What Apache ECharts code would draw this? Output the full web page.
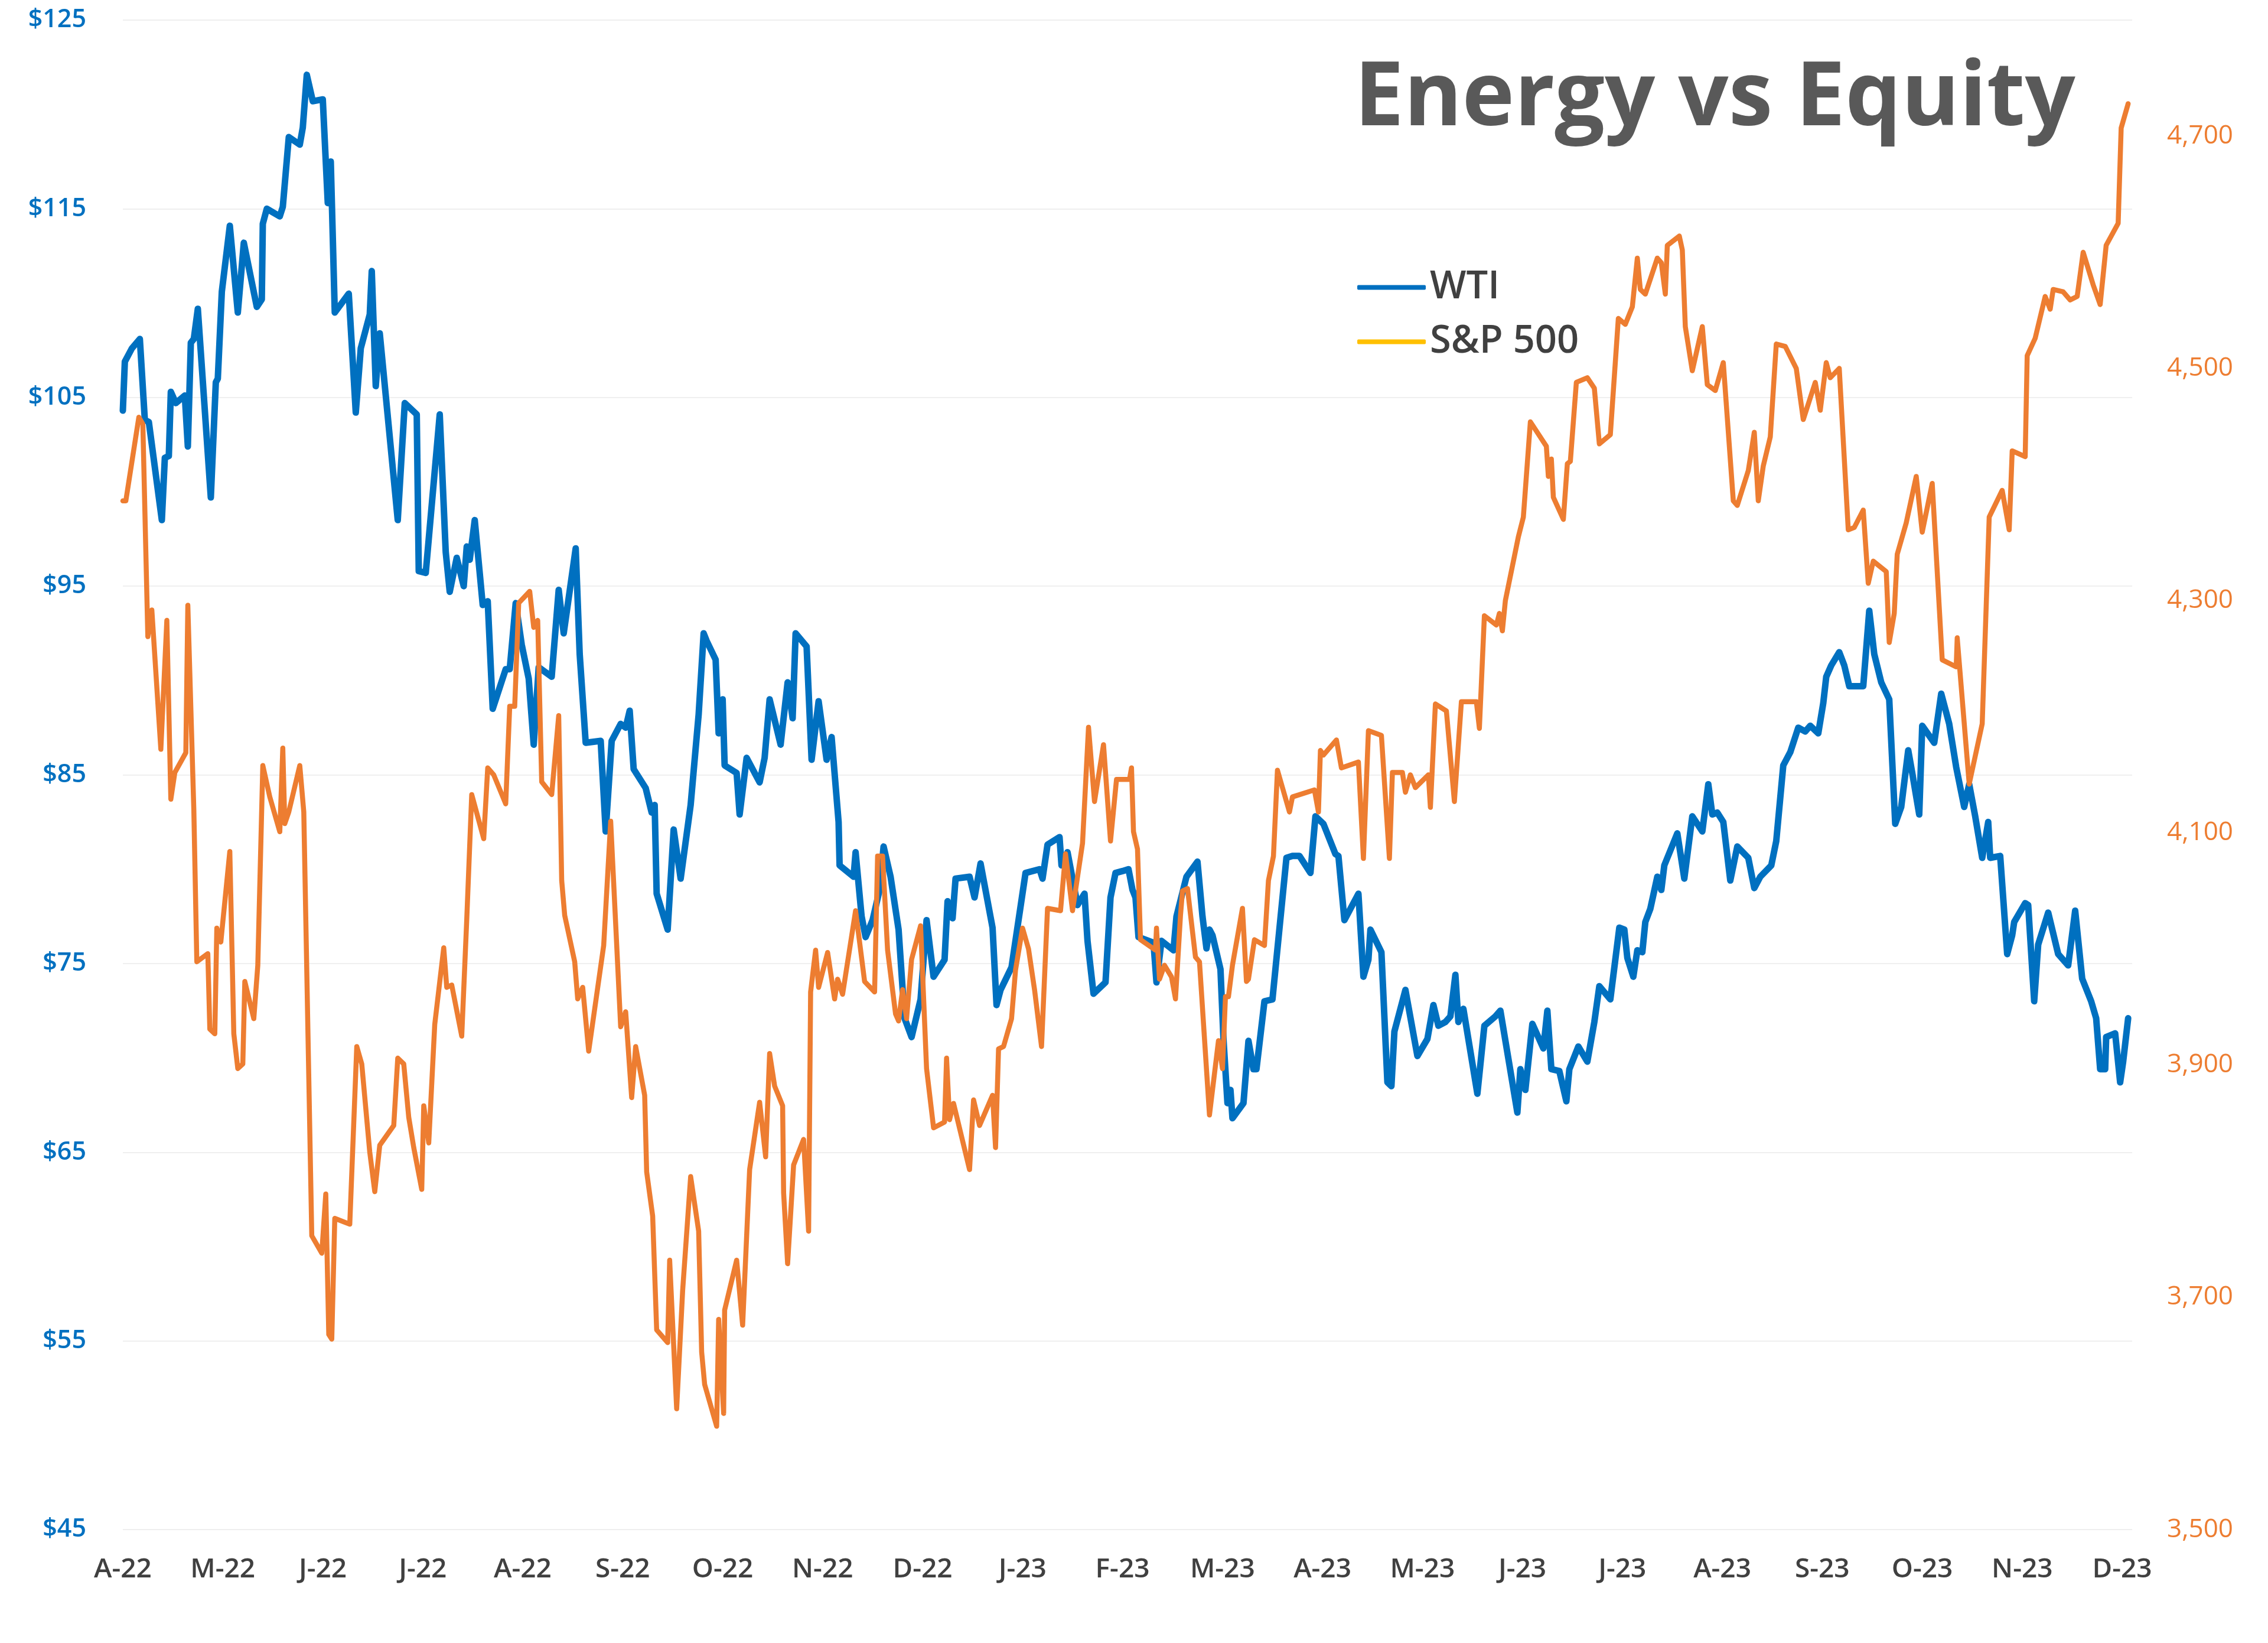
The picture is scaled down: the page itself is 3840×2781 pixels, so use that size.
<!DOCTYPE html>
<html>
<head>
<meta charset="utf-8">
<script src="https://cdn.jsdelivr.net/npm/echarts@6/dist/echarts.min.js"></script>
<style>
html,body{margin:0;padding:0;background:#fff;}
#chart{width:3840px;height:2781px;}
</style>
</head>
<body>
<div id="chart"></div>
<script>
// X tick labels (one per month, position = months since Apr-22)
const xLabels = ['A-22','M-22','J-22','J-22','A-22','S-22','O-22','N-22','D-22','J-23','F-23','M-23','A-23','M-23','J-23','J-23','A-23','S-23','O-23','N-23','D-23'];

// WTI crude ($), [months since Apr-22, price]
const wti = [[0.00,104.3],[0.02,106.9],[0.09,107.6],[0.17,108.1],[0.22,103.8],[0.26,103.7],[0.39,98.5],[0.42,101.8],[0.46,101.9],[0.48,105.3],[0.53,104.7],[0.62,105.1],[0.65,102.4],[0.68,107.9],[0.71,108.1],[0.75,109.7],[0.88,99.7],[0.93,105.8],[0.95,106.0],[0.99,110.6],[1.07,114.1],[1.15,109.5],[1.21,113.2],[1.34,109.8],[1.39,110.2],[1.40,114.2],[1.44,115.0],[1.57,114.6],[1.60,115.1],[1.66,118.8],[1.77,118.4],[1.80,119.3],[1.84,122.1],[1.90,120.7],[2.00,120.8],[2.05,115.3],[2.08,117.5],[2.12,109.5],[2.26,110.5],[2.33,104.2],[2.38,107.6],[2.47,109.4],[2.49,111.7],[2.53,105.6],[2.57,108.4],[2.75,98.5],[2.82,104.7],[2.94,104.1],[2.96,95.8],[3.03,95.7],[3.17,104.1],[3.23,96.8],[3.27,94.7],[3.34,96.5],[3.41,95.0],[3.44,97.1],[3.47,96.4],[3.52,98.5],[3.60,94.0],[3.65,94.2],[3.70,88.5],[3.83,90.6],[3.87,90.6],[3.93,94.1],[3.99,91.9],[4.06,90.1],[4.11,86.6],[4.16,90.7],[4.29,90.2],[4.36,94.8],[4.41,92.5],[4.53,97.0],[4.57,91.4],[4.63,86.7],[4.78,86.8],[4.83,82.0],[4.89,86.8],[4.98,87.7],[5.03,87.5],[5.07,88.4],[5.11,85.3],[5.23,84.3],[5.29,83.0],[5.32,83.4],[5.34,78.7],[5.45,76.8],[5.51,82.1],[5.58,79.5],[5.68,83.4],[5.76,88.2],[5.81,92.5],[5.84,92.1],[5.93,91.1],[5.96,87.2],[6.00,89.0],[6.02,85.5],[6.14,85.1],[6.17,82.9],[6.24,85.9],[6.37,84.6],[6.42,85.9],[6.47,89.0],[6.58,86.6],[6.65,89.9],[6.70,88.0],[6.73,92.5],[6.84,91.8],[6.89,85.8],[6.96,88.9],[7.04,85.8],[7.09,87.0],[7.16,82.5],[7.17,80.2],[7.31,79.6],[7.33,80.9],[7.39,77.5],[7.43,76.4],[7.50,77.3],[7.57,78.9],[7.61,81.2],[7.68,79.6],[7.76,76.8],[7.82,72.1],[7.89,71.1],[7.98,73.1],[8.04,77.3],[8.11,74.3],[8.22,75.2],[8.25,78.3],[8.30,77.4],[8.33,79.5],[8.47,79.6],[8.52,78.5],[8.58,80.3],[8.70,76.9],[8.74,72.8],[8.78,73.6],[8.89,74.8],[9.03,79.8],[9.17,80.0],[9.20,79.5],[9.25,81.3],[9.37,81.7],[9.39,80.2],[9.45,80.9],[9.55,78.1],[9.62,78.7],[9.65,76.2],[9.71,73.4],[9.83,74.0],[9.88,78.5],[9.93,79.8],[10.00,79.9],[10.06,80.0],[10.10,78.9],[10.13,78.5],[10.16,76.4],[10.31,76.1],[10.34,74.0],[10.39,76.2],[10.51,75.7],[10.54,77.5],[10.64,79.6],[10.75,80.4],[10.80,77.5],[10.84,75.8],[10.87,76.8],[10.90,76.5],[10.98,74.7],[11.01,71.0],[11.05,67.6],[11.08,68.3],[11.10,66.8],[11.21,67.6],[11.26,70.9],[11.31,69.4],[11.34,69.4],[11.42,73.0],[11.50,73.1],[11.64,80.6],[11.70,80.7],[11.77,80.7],[11.88,79.8],[11.93,82.8],[12.01,82.4],[12.13,80.8],[12.16,80.7],[12.22,77.3],[12.36,78.7],[12.41,74.3],[12.46,75.2],[12.48,76.8],[12.59,75.6],[12.65,68.7],[12.69,68.5],[12.72,71.4],[12.83,73.6],[12.95,70.1],[13.05,71.0],[13.11,72.8],[13.16,71.7],[13.23,71.9],[13.28,72.2],[13.33,74.4],[13.36,71.9],[13.41,72.6],[13.55,68.1],[13.62,71.7],[13.73,72.2],[13.78,72.5],[13.95,67.1],[13.98,69.4],[14.03,68.3],[14.10,71.8],[14.21,70.5],[14.25,72.5],[14.29,69.4],[14.37,69.3],[14.44,67.7],[14.47,69.4],[14.56,70.6],[14.65,69.8],[14.72,71.9],[14.77,73.8],[14.88,73.1],[14.97,76.9],[15.02,76.8],[15.05,75.3],[15.11,74.3],[15.15,75.7],[15.20,75.6],[15.23,77.2],[15.28,77.9],[15.35,79.6],[15.39,78.9],[15.42,80.2],[15.55,81.9],[15.62,79.5],[15.70,82.8],[15.80,82.0],[15.86,84.5],[15.90,82.9],[15.95,83.0],[16.01,82.5],[16.08,79.4],[16.15,81.2],[16.26,80.6],[16.32,79.0],[16.38,79.6],[16.49,80.2],[16.54,81.5],[16.61,85.5],[16.68,86.2],[16.76,87.5],[16.83,87.3],[16.88,87.6],[16.96,87.2],[17.01,88.8],[17.04,90.2],[17.09,90.8],[17.17,91.5],[17.22,90.8],[17.27,89.7],[17.41,89.7],[17.47,93.7],[17.52,91.4],[17.59,89.9],[17.67,89.0],[17.73,82.4],[17.79,83.3],[17.86,86.3],[17.90,85.1],[17.97,82.9],[18.00,87.6],[18.12,86.7],[18.19,89.3],[18.27,87.7],[18.34,85.4],[18.42,83.3],[18.47,84.5],[18.53,82.8],[18.60,80.6],[18.66,82.5],[18.68,80.6],[18.78,80.7],[18.85,75.5],[18.90,76.5],[18.92,77.2],[19.03,78.2],[19.06,78.1],[19.12,73.0],[19.16,76.0],[19.26,77.7],[19.36,75.5],[19.46,74.9],[19.53,77.8],[19.60,74.2],[19.69,73.0],[19.74,72.1],[19.78,69.4],[19.83,69.4],[19.84,71.1],[19.93,71.3],[19.98,68.7],[20.01,69.8],[20.06,72.1]];

// S&P 500 index, [months since Apr-22, level]
const spx = [[0.00,4386],[0.03,4386],[0.16,4458],[0.20,4452],[0.25,4269],[0.29,4292],[0.38,4172],[0.44,4283],[0.48,4129],[0.52,4152],[0.63,4169],[0.65,4296],[0.71,4120],[0.74,3989],[0.85,3996],[0.87,3931],[0.92,3927],[0.94,4018],[0.98,4006],[1.07,4084],[1.11,3927],[1.15,3897],[1.20,3901],[1.22,3972],[1.31,3940],[1.35,3986],[1.40,4158],[1.47,4131],[1.57,4101],[1.60,4173],[1.62,4108],[1.66,4118],[1.77,4158],[1.81,4118],[1.89,3753],[1.99,3738],[2.03,3789],[2.06,3668],[2.09,3664],[2.12,3768],[2.27,3763],[2.34,3916],[2.39,3901],[2.47,3825],[2.52,3791],[2.57,3831],[2.71,3848],[2.75,3906],[2.81,3901],[2.86,3855],[2.91,3829],[2.99,3793],[3.01,3865],[3.06,3833],[3.12,3935],[3.21,4001],[3.24,3967],[3.29,3969],[3.39,3925],[3.44,4025],[3.49,4133],[3.61,4095],[3.65,4156],[3.71,4150],[3.83,4125],[3.87,4209],[3.92,4209],[3.96,4298],[4.07,4308],[4.11,4277],[4.15,4283],[4.19,4144],[4.29,4133],[4.36,4201],[4.39,4059],[4.42,4029],[4.52,3989],[4.55,3957],[4.60,3967],[4.66,3912],[4.81,4003],[4.88,4110],[4.98,3933],[5.03,3946],[5.09,3872],[5.13,3916],[5.22,3874],[5.24,3808],[5.30,3770],[5.34,3672],[5.45,3661],[5.47,3732],[5.54,3604],[5.60,3706],[5.68,3804],[5.76,3757],[5.79,3653],[5.82,3625],[5.94,3589],[5.96,3681],[6.01,3600],[6.02,3689],[6.14,3732],[6.20,3676],[6.27,3810],[6.37,3868],[6.43,3821],[6.47,3910],[6.52,3882],[6.60,3865],[6.61,3790],[6.65,3729],[6.71,3814],[6.81,3836],[6.86,3757],[6.88,3963],[6.93,3999],[6.96,3967],[7.05,3997],[7.12,3957],[7.15,3974],[7.20,3961],[7.33,4033],[7.42,3972],[7.52,3963],[7.55,4080],[7.60,4080],[7.65,3999],[7.73,3944],[7.76,3938],[7.80,3965],[7.84,3940],[7.89,3991],[7.98,4020],[8.04,3897],[8.11,3846],[8.22,3851],[8.24,3906],[8.27,3853],[8.31,3867],[8.47,3810],[8.51,3870],[8.57,3848],[8.70,3874],[8.73,3829],[8.76,3914],[8.81,3916],[8.89,3940],[8.93,3982],[9.00,4018],[9.06,4000],[9.12,3965],[9.19,3916],[9.25,4035],[9.38,4033],[9.43,4082],[9.50,4033],[9.60,4091],[9.66,4191],[9.72,4127],[9.81,4176],[9.88,4093],[9.94,4146],[10.00,4146],[10.07,4146],[10.09,4156],[10.11,4101],[10.15,4086],[10.18,4008],[10.33,3999],[10.34,4018],[10.37,3974],[10.42,3986],[10.49,3976],[10.53,3957],[10.58,4029],[10.60,4050],[10.65,4052],[10.73,3993],[10.77,3989],[10.87,3857],[10.96,3921],[11.00,3897],[11.03,3959],[11.06,3959],[11.10,3986],[11.20,4035],[11.24,3972],[11.26,3974],[11.32,4008],[11.42,4003],[11.46,4059],[11.51,4080],[11.55,4154],[11.67,4118],[11.70,4131],[11.92,4137],[11.96,4118],[11.98,4171],[12.01,4167],[12.14,4180],[12.19,4156],[12.36,4161],[12.41,4078],[12.46,4188],[12.59,4184],[12.67,4078],[12.70,4152],[12.80,4152],[12.83,4135],[12.88,4150],[12.93,4139],[13.06,4150],[13.08,4122],[13.13,4211],[13.24,4205],[13.32,4127],[13.39,4213],[13.54,4213],[13.57,4190],[13.62,4287],[13.74,4279],[13.77,4289],[13.80,4274],[13.83,4300],[13.96,4355],[14.01,4372],[14.08,4454],[14.24,4433],[14.26,4407],[14.29,4422],[14.31,4389],[14.41,4370],[14.45,4418],[14.48,4420],[14.54,4488],[14.65,4492],[14.72,4483],[14.77,4435],[14.88,4443],[14.96,4543],[15.03,4538],[15.10,4553],[15.15,4595],[15.18,4568],[15.23,4564],[15.35,4595],[15.39,4591],[15.43,4564],[15.45,4606],[15.57,4614],[15.60,4602],[15.63,4536],[15.70,4498],[15.80,4536],[15.85,4486],[15.93,4481],[16.01,4505],[16.11,4386],[16.15,4382],[16.26,4412],[16.32,4445],[16.36,4386],[16.41,4416],[16.48,4441],[16.54,4521],[16.63,4519],[16.74,4500],[16.81,4456],[16.93,4488],[16.98,4464],[17.04,4505],[17.08,4492],[17.17,4500],[17.26,4361],[17.32,4363],[17.41,4378],[17.46,4315],[17.51,4334],[17.64,4325],[17.67,4264],[17.72,4289],[17.75,4340],[17.84,4367],[17.94,4407],[18.00,4359],[18.10,4401],[18.20,4249],[18.34,4243],[18.35,4268],[18.47,4142],[18.60,4194],[18.67,4372],[18.80,4395],[18.87,4361],[18.90,4429],[19.03,4424],[19.05,4511],[19.13,4526],[19.23,4562],[19.28,4551],[19.31,4568],[19.41,4566],[19.48,4559],[19.55,4562],[19.61,4600],[19.71,4572],[19.78,4555],[19.84,4606],[19.96,4625],[19.99,4707],[20.06,4728]];

const FONT = 'Open Sans';
const chart = echarts.init(document.getElementById('chart'), null, {renderer: 'canvas'});
chart.setOption({
  animation: false,
  backgroundColor: '#ffffff',
  title: {
    text: 'Energy vs Equity',
    left: 2288, top: 89,
    textStyle: {fontFamily: FONT, fontSize: 150, fontWeight: 'bold', color: '#595959'}
  },
  legend: {
    orient: 'vertical',
    left: 2293, top: 449,
    itemWidth: 116, itemHeight: 8, itemGap: 27,
    icon: 'roundRect',
    textStyle: {fontFamily: FONT, fontSize: 65, fontWeight: 600, color: '#404040', lineHeight: 64, padding: [0, 0, 0, 2]},
    data: [
      {name: 'WTI', itemStyle: {color: '#0070C0'}},
      {name: 'S&P 500', itemStyle: {color: '#FFC000'}}
    ]
  },
  grid: {left: 208, right: 230, top: 34, bottom: 192, containLabel: false},
  xAxis: {
    type: 'value', min: 0, max: 20.1, interval: 1,
    axisLine: {show: false}, axisTick: {show: false}, splitLine: {show: false},
    axisLabel: {
      fontFamily: FONT, fontSize: 46, fontWeight: 600, color: '#404040', margin: 45,
      formatter: v => (Number.isInteger(v) && xLabels[v] !== undefined) ? xLabels[v] : ''
    }
  },
  yAxis: [
    {
      type: 'value', min: 45, max: 125, interval: 10, position: 'left',
      axisLine: {show: false}, axisTick: {show: false},
      splitLine: {lineStyle: {color: '#EFEFEF', width: 2}},
      axisLabel: {fontFamily: FONT, fontSize: 43, fontWeight: 600, color: '#0070C0', margin: 62,
        formatter: v => '$' + v}
    },
    {
      type: 'value', min: 3500, max: 4800, interval: 200, position: 'right',
      axisLine: {show: false}, axisTick: {show: false}, splitLine: {show: false},
      axisLabel: {fontFamily: FONT, fontSize: 44, color: '#ED7D31', margin: 59, showMaxLabel: false,
        formatter: v => v.toLocaleString('en-US')}
    }
  ],
  series: [
    {
      name: 'WTI', type: 'line', yAxisIndex: 0, data: wti,
      showSymbol: false, symbol: 'none',
      lineStyle: {color: '#0070C0', width: 11, join: 'round', cap: 'round'},
      itemStyle: {color: '#0070C0'}
    },
    {
      name: 'S&P 500', type: 'line', yAxisIndex: 1, data: spx,
      showSymbol: false, symbol: 'none',
      lineStyle: {color: '#ED7D31', width: 8.5, join: 'round', cap: 'round'},
      itemStyle: {color: '#ED7D31'}
    }
  ]
});
</script>
</body>
</html>
